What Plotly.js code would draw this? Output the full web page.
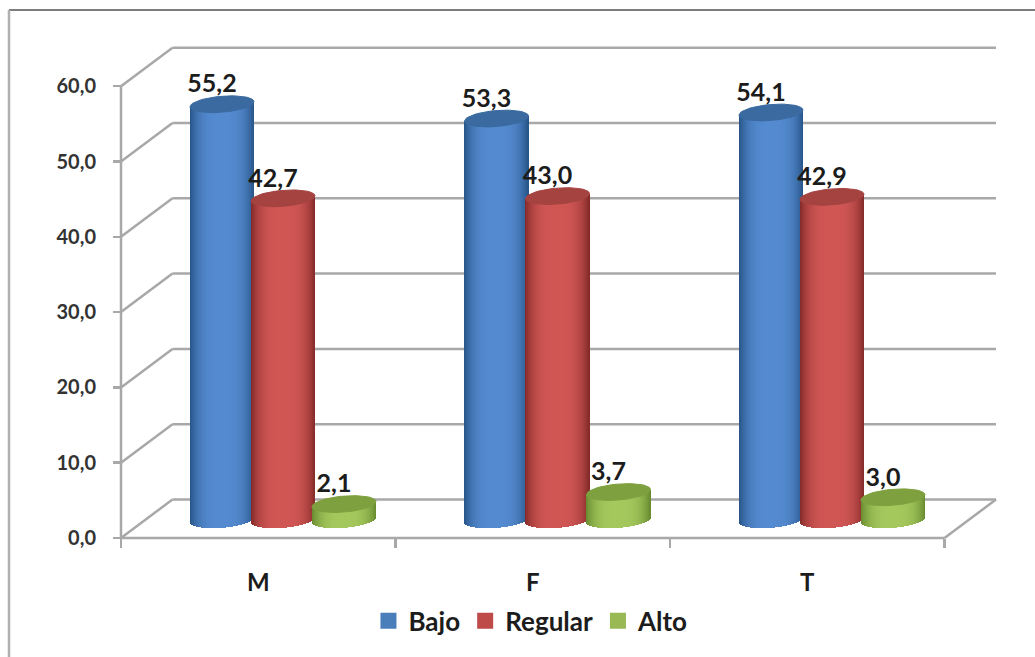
<!DOCTYPE html>
<html>
<head>
<meta charset="utf-8">
<script src="https://cdn.plot.ly/plotly-3.0.1.min.js"></script>
<style>html,body{margin:0;padding:0;background:#fff}#chart{width:1035px;height:657px}</style>
</head>
<body>
<div id="chart"></div>
<script>
// Percentages per group and level
const groups = ['M', 'F', 'T'];
const bajo = [55.2, 53.3, 54.1];
const regular = [42.7, 43.0, 42.9];
const alto = [2.1, 3.7, 3.0];
const levelNames = ['Bajo', 'Regular', 'Alto'];
const levelSeries = [bajo, regular, alto];
const yTicks = [0, 10, 20, 30, 40, 50, 60];

// Colours of each cylinder: side edge, side centre, top cap, legend swatch
const edgeColors = [[38, 84, 135], [130, 42, 40], [104, 138, 48]];
const midColors = [[84, 138, 208], [208, 86, 84], [164, 200, 92]];
const capColors = ['#3a6a9f', '#a54341', '#7ea03e'];
const swatchColors = ['#4a7ebb', '#be4b48', '#98b954'];
const gridColor = '#a8a8a8';
const textColor = '#1c1c1c';
const fontName = 'Lato, "Open Sans", sans-serif';

// Pixel scale of the oblique drawing
const pxPerGroup = 274.5, pxPerUnit = 7.53;
const depthX = 51.5 / pxPerGroup, depthY = 38.5 / pxPerUnit;
const rx = 32 / pxPerGroup, ry = 8 / pxPerUnit, tilt = 2.5 / pxPerUnit;
const spacing = 61 / pxPerGroup;
const stripCount = 64;

// Plot frame, kept a little larger than the drawing so border lines are not clipped
const plotLeft = 111, plotRight = 1005, plotTop = 40, plotBottom = 548;
const xMin = -10 / pxPerGroup, xMax = (plotRight - 121) / pxPerGroup;
const yMin = -10 / pxPerUnit, yMax = (538 - plotTop) / pxPerUnit;
const plotW = plotRight - plotLeft, plotH = plotBottom - plotTop;

const traces = [];
const capTraces = [];
const labelTraces = [];

function mix(a, b, f) {
  return 'rgb(' + a.map((v, i) => Math.round(v + (b[i] - v) * f)).join(',') + ')';
}

levelSeries.forEach((series, s) => {
  const xs = [], bases = [], heights = [], colors = [];
  series.forEach((value, g) => {
    const cx = g + 0.5 + (depthX * pxPerGroup / 2 - 1) / pxPerGroup + (s - 1) * spacing;
    const base = depthY / 2 - 0.15;
    for (let k = 0; k < stripCount; k++) {
      const u = (k + 0.5) / stripCount * 2 - 1;
      const low = base - ry * Math.sqrt(1 - u * u) + tilt * u;
      const high = base + value + tilt * u;
      xs.push(cx + u * rx);
      bases.push(low);
      heights.push(high - low);
      colors.push(mix(edgeColors[s], midColors[s], 1 - Math.pow(Math.abs(u), 3.2)));
    }
    // Elliptical top of the cylinder
    const ex = [], ey = [];
    for (let a = 0; a <= 60; a++) {
      const t = a / 60 * 2 * Math.PI;
      ex.push(cx + rx * Math.cos(t));
      ey.push(base + value + ry * Math.sin(t) + tilt * Math.cos(t));
    }
    capTraces.push({
      type: 'scatter', mode: 'lines', x: ex, y: ey, fill: 'toself',
      fillcolor: capColors[s], line: {color: capColors[s], width: 1},
      hoverinfo: 'skip', showlegend: false
    });
    labelTraces.push({
      type: 'scatter', mode: 'text',
      x: [cx - 10 / pxPerGroup], y: [base + value + 18 / pxPerUnit],
      text: [value.toFixed(1).replace('.', ',')],
      textposition: 'middle center',
      textfont: {family: fontName, size: 25, color: textColor, weight: 700},
      cliponaxis: false, hoverinfo: 'skip', showlegend: false
    });
  });
  traces.push({
    type: 'bar', x: xs, y: heights, base: bases,
    width: xs.map(() => 1.25 * rx * 2 / stripCount),
    marker: {color: colors, line: {width: 0}},
    hoverinfo: 'skip', showlegend: false
  });
});

// Legend entries
const legendTraces = levelNames.map((name, s) => ({
  type: 'scatter', mode: 'markers', name: name, x: [null], y: [null],
  marker: {symbol: 'square', size: 16, color: swatchColors[s]}
}));

// Oblique walls and floor sit beneath the cylinders
const line = (x0, y0, x1, y1) => ({
  type: 'line', layer: 'below', xref: 'x', yref: 'y', x0, y0, x1, y1,
  line: {color: gridColor, width: 2.5}
});
const shapes = [];
yTicks.forEach(v => {
  shapes.push(line(0, v, depthX, v + depthY));
  shapes.push(line(depthX, v + depthY, groups.length + depthX, v + depthY));
});
shapes.push(line(0, 0, 0, 60));
shapes.push(line(0, 0, groups.length, 0));
shapes.push(line(groups.length, 0, groups.length + depthX, depthY));

// Outer frame of the figure, given in page pixels
const px = v => (v - plotLeft) / plotW;
const py = v => (plotBottom - v) / plotH;
const frame = (x0, y0, x1, y1, color, width) => ({
  type: 'line', xref: 'paper', yref: 'paper',
  x0: px(x0), y0: py(y0), x1: px(x1), y1: py(y1),
  line: {color: color, width: width}
});
shapes.push(frame(9, 10, 1035, 10, '#7d7d7d', 2));
shapes.push(frame(9, 10, 9, 657, '#b0b0b0', 2.5));

const layout = {
  width: 1035, height: 657,
  margin: {l: plotLeft, r: 1035 - plotRight, t: plotTop, b: 657 - plotBottom, pad: 0},
  paper_bgcolor: '#fff', plot_bgcolor: '#fff',
  barmode: 'overlay', bargap: 0,
  separators: ',.',
  showlegend: true,
  legend: {
    orientation: 'h', x: 0.513, xanchor: 'center', xref: 'container',
    y: 0.055, yanchor: 'middle', yref: 'container',
    font: {family: fontName, size: 26, color: textColor, weight: 700},
    itemwidth: 30, traceorder: 'normal', bgcolor: 'rgba(0,0,0,0)'
  },
  xaxis: {
    range: [xMin, xMax], anchor: 'free', position: 10 / plotH,
    tickmode: 'array',
    tickvals: groups.map((g, i) => i + 0.5), ticktext: groups,
    ticks: '', showgrid: false, zeroline: false, showline: false,
    ticklabelstandoff: 28,
    tickfont: {family: fontName, size: 24, color: textColor, weight: 700},
    minor: {tickmode: 'array', tickvals: [0, 1, 2, 3], ticks: 'outside',
            ticklen: 9, tickwidth: 2.5, tickcolor: gridColor, showgrid: false}
  },
  yaxis: {
    range: [yMin, yMax], anchor: 'free', position: 10 / plotW,
    tickmode: 'array', tickvals: yTicks,
    tickformat: '.1f', ticks: 'outside', ticklen: 8, tickwidth: 2.5,
    tickcolor: gridColor, showgrid: false, zeroline: false, showline: false,
    ticklabelstandoff: 13,
    tickfont: {family: fontName, size: 20, color: '#333', weight: 700}
  },
  shapes: shapes
};

Plotly.newPlot('chart', [...traces, ...capTraces, ...labelTraces, ...legendTraces], layout,
  {displayModeBar: false, staticPlot: true});
</script>
</body>
</html>
